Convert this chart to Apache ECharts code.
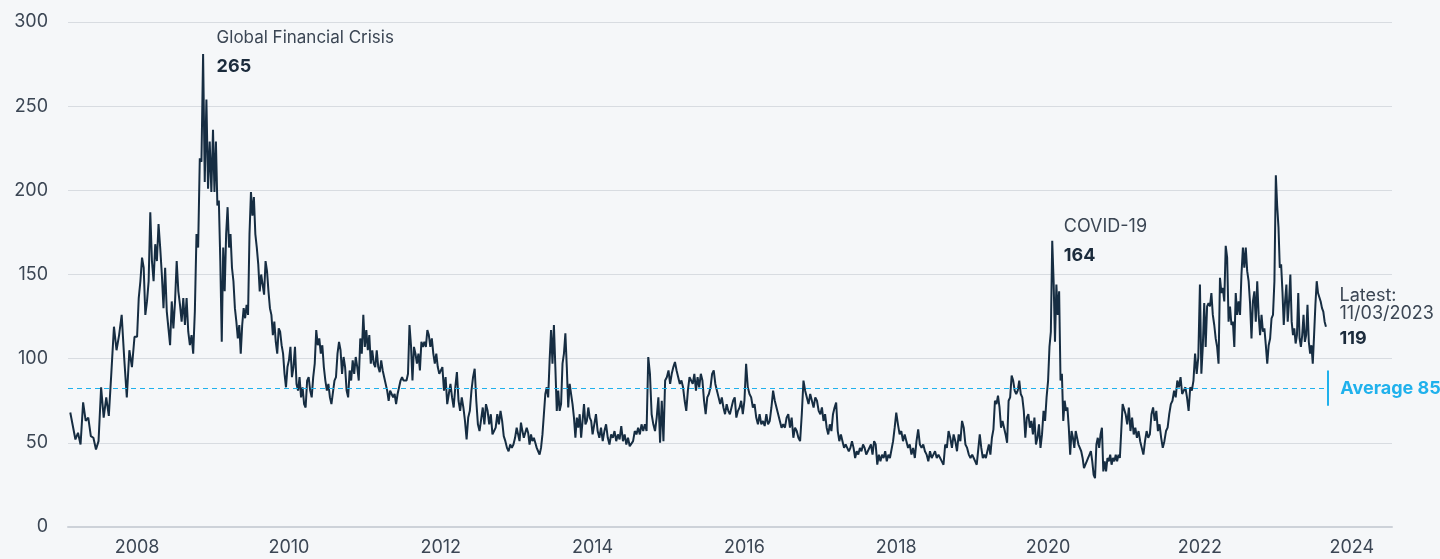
<!DOCTYPE html>
<html>
<head>
<meta charset="utf-8">
<script src="https://cdn.jsdelivr.net/npm/echarts@6/dist/echarts.min.js"></script>
<style>
  html, body { margin: 0; padding: 0; background: #f5f7f9; }
  #chart { width: 1440px; height: 559px; }
</style>
</head>
<body>
<div id="chart"></div>
<script>
// values, one list per calendar year, spread evenly over that year
var y2007 = [68, 60, 52, 56, 49, 74, 63, 65, 54, 53, 46, 51, 83, 65, 77, 66, 92, 119, 105, 114, 126, 100, 77, 105, 95, 113];
var y2008 = [113, 136, 146, 160, 154, 126, 134, 146, 187, 158, 146, 168, 158, 180, 166, 150, 130, 154, 128, 118, 108, 134, 118, 134, 158, 140, 132, 122, 136, 120, 136, 116, 108, 114, 103, 128, 174, 166, 219, 217, 281, 205, 254, 201, 229, 199];
var y2009 = [236, 199, 229, 191, 194, 158, 110, 166, 140, 174, 190, 166, 174, 154, 146, 130, 122, 112, 120, 103, 120, 130, 124, 132, 126, 174, 199, 185, 196, 174, 166, 156, 140, 150, 144, 138, 158, 152, 140, 130, 126, 114, 122, 110, 103, 118, 116, 108, 103, 91, 83, 95];
var y2010 = [99, 107, 89, 95, 107, 85, 81, 89, 77, 83, 73, 71, 87, 89, 81, 77, 89, 97, 117, 108, 112, 103, 108, 95, 87, 81, 85, 77, 73, 74, 87, 89, 103, 110, 105, 91, 101, 95, 81, 77, 93, 87, 99, 91, 101, 95, 87, 112, 103, 126];
var y2011 = [107, 117, 105, 114, 97, 105, 97, 95, 105, 95, 92, 99, 93, 89, 88, 81, 75, 81, 79, 77, 79, 73, 79, 83, 87, 89, 87, 88, 87, 91, 120, 108, 87, 107, 103, 97, 103, 93, 110, 107, 110, 107, 117, 114, 107, 112, 103, 97, 103, 95, 91];
var y2012 = [91, 95, 81, 89, 73, 79, 85, 77, 71, 83, 92, 75, 69, 77, 71, 63, 52, 65, 69, 81, 89, 94, 75, 61, 57, 64, 71, 61, 73, 69, 61, 67, 55, 57, 59, 67, 61, 69, 63, 54, 51, 47, 45, 49, 47, 49, 53];
var y2013 = [59, 55, 51, 62, 57, 53, 56, 59, 56, 49, 55, 51, 53, 50, 47, 45, 43, 47, 55, 67, 79, 83, 77, 99, 117, 97, 120, 95, 69, 81, 69, 73, 97, 103, 115, 95, 71, 85, 79, 73, 65, 53, 65, 59, 67, 53, 63, 73, 61, 63, 71, 65, 63];
var y2014 = [55, 61, 67, 57, 53, 59, 51, 57, 61, 53, 49, 55, 53, 57, 51, 55, 52, 60, 51, 55, 49, 53, 48, 47, 51, 57, 55, 59, 55, 61, 57, 61, 57, 101, 91, 67, 61, 57, 65, 77, 50, 75, 51, 87, 89];
var y2015 = [93, 85, 91, 95, 98, 93, 89, 85, 87, 83, 75, 69, 81, 89, 87, 85, 91, 81, 89, 83, 91, 87, 75, 67, 77, 79, 83, 91, 93, 85, 81, 77, 73, 77, 71, 67, 73, 69, 67, 71, 75, 77, 65, 69, 71, 75, 67];
var y2016 = [75, 97, 83, 79, 77, 71, 73, 65, 61, 67, 61, 63, 60, 67, 61, 63, 71, 81, 75, 71, 67, 63, 59, 61, 59, 65, 67, 59, 65, 53, 59, 57, 53, 51, 67, 87, 81, 77, 73, 79, 75, 71, 77, 75, 69];
var y2017 = [67, 71, 63, 67, 59, 55, 61, 57, 67, 71, 74, 57, 51, 55, 51, 47, 49, 47, 45, 47, 51, 47, 41, 45, 43, 47, 45, 49, 47, 43, 45, 45, 49, 43, 51, 49, 37, 43, 39, 43, 41, 45, 39, 43, 41, 41, 51, 59];
var y2018 = [68, 61, 55, 57, 51, 55, 51, 47, 49, 43, 47, 41, 51, 58, 49, 47, 49, 45, 43, 39, 45, 41, 43, 45, 41, 43, 41, 39, 37, 49, 47, 57, 53, 47, 55, 51, 45, 55, 51, 63, 59, 49, 47, 43, 41];
var y2019 = [43, 41, 39, 37, 36, 55, 47, 41, 43, 41, 45, 49, 43, 53, 58, 75, 73, 78, 71, 59, 63, 59, 55, 50, 75, 77, 90, 87, 81, 79, 81, 87, 79, 77, 69, 53, 65, 67, 59, 63, 55, 65, 49, 53, 61, 47, 55, 69, 63, 77];
var y2020 = [87, 107, 116, 170, 146, 110, 144, 126, 140, 87, 91, 63, 75, 69, 71, 59, 43, 57, 53, 47, 57, 53, 49, 47, 45, 41, 35, 37, 39, 41, 43, 45, 39, 31, 29, 49, 53, 47, 55, 59, 33, 39, 33, 41, 39, 43, 37, 41, 39, 43, 39, 43, 41, 57, 73];
var y2021 = [73, 67, 61, 71, 57, 65, 55, 59, 53, 57, 51, 47, 43, 51, 57, 53, 55, 67, 71, 63, 69, 57, 61, 53, 47, 51, 57, 59, 67, 73, 75, 81, 77, 87, 83, 89, 79, 81, 83, 77, 69, 83, 81, 87, 103, 91, 101];
var y2022 = [144, 91, 107, 133, 107, 131, 133, 131, 139, 126, 120, 112, 107, 97, 148, 139, 142, 134, 167, 160, 122, 131, 120, 122, 107, 139, 126, 134, 126, 150, 166, 154, 166, 152, 146, 133, 112, 134, 140, 122, 146, 126, 114, 126, 116, 118, 108, 97, 108, 112, 124, 126, 146];
var y2023 = [209, 191, 178, 154, 156, 140, 120, 134, 144, 122, 134, 150, 122, 114, 118, 109, 114, 139, 112, 107, 114, 126, 110, 114, 132, 110, 103, 108, 97, 114, 132, 146, 139, 140, 134, 130, 128, 122, 119];

var years = [2007, 2008, 2009, 2010, 2011, 2012, 2013, 2014, 2015, 2016, 2017, 2018, 2019, 2020, 2021, 2022, 2023];
var yearValues = [y2007, y2008, y2009, y2010, y2011, y2012, y2013, y2014, y2015, y2016, y2017, y2018, y2019, y2020, y2021, y2022, y2023];
var firstDate = 2007.12;   // series starts in Feb 2007
var lastDate = 2023.66;    // last reading
var tickYears = [2008, 2010, 2012, 2014, 2016, 2018, 2020, 2022, 2024];
var avgLevel = 82.5;

// build [x, y] pairs
var seriesData = [];
years.forEach(function (yr, k) {
  var vals = yearValues[k];
  var last = k == years.length - 1;
  var start = k == 0 ? firstDate : yr;
  var end = last ? lastDate : yr + 1;
  var step = (end - start) / (last ? vals.length - 1 : vals.length);
  vals.forEach(function (v, i) {
    seriesData.push([start + i * step, v]);
  });
});

function maxIn(from, to) {
  var best = null;
  seriesData.forEach(function (p) {
    if (p[0] >= from && p[0] < to && (!best || p[1] > best[1])) best = p;
  });
  return best;
}
var gfcPeak = maxIn(2008, 2010);
var covidPeak = maxIn(2020, 2021);
var latest = seriesData[seriesData.length - 1];
var avgEnd = lastDate + 0.03;

var txt = '#3b4654';
var dark = '#1b2b3c';
var cyan = '#1fb1ec';
var font = 'Inter';

var rich = {
  g: {fontFamily: font, fontSize: 17, color: txt, lineHeight: 29},
  t: {fontFamily: font, fontSize: 18, color: txt, lineHeight: 29},
  v: {fontFamily: font, fontSize: 18, color: dark, fontWeight: 'bold', lineHeight: 29},
  s: {fontFamily: font, fontSize: 18, color: txt, lineHeight: 18},
  b: {fontFamily: font, fontSize: 18, color: dark, fontWeight: 'bold', lineHeight: 32}
};

var myChart = echarts.init(document.getElementById('chart'));
myChart.setOption({
  animation: false,
  backgroundColor: '#f5f7f9',
  grid: {left: 68, right: 48, top: 22, bottom: 32},
  xAxis: {
    type: 'value',
    min: 2007.09,
    max: 2024.53,
    axisLine: {show: true, lineStyle: {color: '#cdd2d9', width: 2}},
    axisTick: {show: false},
    splitLine: {show: false},
    axisLabel: {
      customValues: tickYears,
      formatter: function (v) { return String(Math.round(v)); },
      margin: 12,
      color: txt,
      fontSize: 18,
      fontFamily: font
    }
  },
  yAxis: {
    type: 'value',
    min: 0,
    max: 300,
    interval: 50,
    axisLine: {show: false},
    axisTick: {show: false},
    axisLabel: {margin: 20, color: txt, fontSize: 18, fontFamily: font},
    splitLine: {lineStyle: {color: '#d8dce1', width: 1}}
  },
  series: [{
    type: 'line',
    data: seriesData,
    showSymbol: false,
    lineStyle: {color: '#162d42', width: 2},
    markLine: {
      silent: true,
      symbol: ['none', 'none'],
      data: [
        [
          {coord: [2007.09, avgLevel], lineStyle: {color: cyan, type: [5, 4], width: 1.2},
           label: {show: true, position: 'end', distance: 12, formatter: 'Average 85',
                   color: cyan, fontWeight: 'bold', fontSize: 18, fontFamily: font}},
          {coord: [avgEnd, avgLevel]}
        ],
        [
          {coord: [avgEnd, 72], lineStyle: {color: cyan, type: 'solid', width: 2}, label: {show: false}},
          {coord: [avgEnd, 93]}
        ]
      ]
    },
    markPoint: {
      silent: true,
      symbol: 'circle',
      symbolSize: 1,
      itemStyle: {color: 'rgba(0,0,0,0)'},
      data: [
        {coord: gfcPeak, label: {show: true, position: [14, -30], formatter: '{g|Global Financial Crisis}\n{v|265}', rich: rich}},
        {coord: covidPeak, label: {show: true, position: [12, -28], formatter: '{t|COVID-19}\n{v|164}', rich: rich}},
        {coord: latest, label: {show: true, position: [14, -40], formatter: '{s|Latest:}\n{s|11/03/2023}\n{b|119}', rich: rich}}
      ]
    }
  }]
});
</script>
</body>
</html>
